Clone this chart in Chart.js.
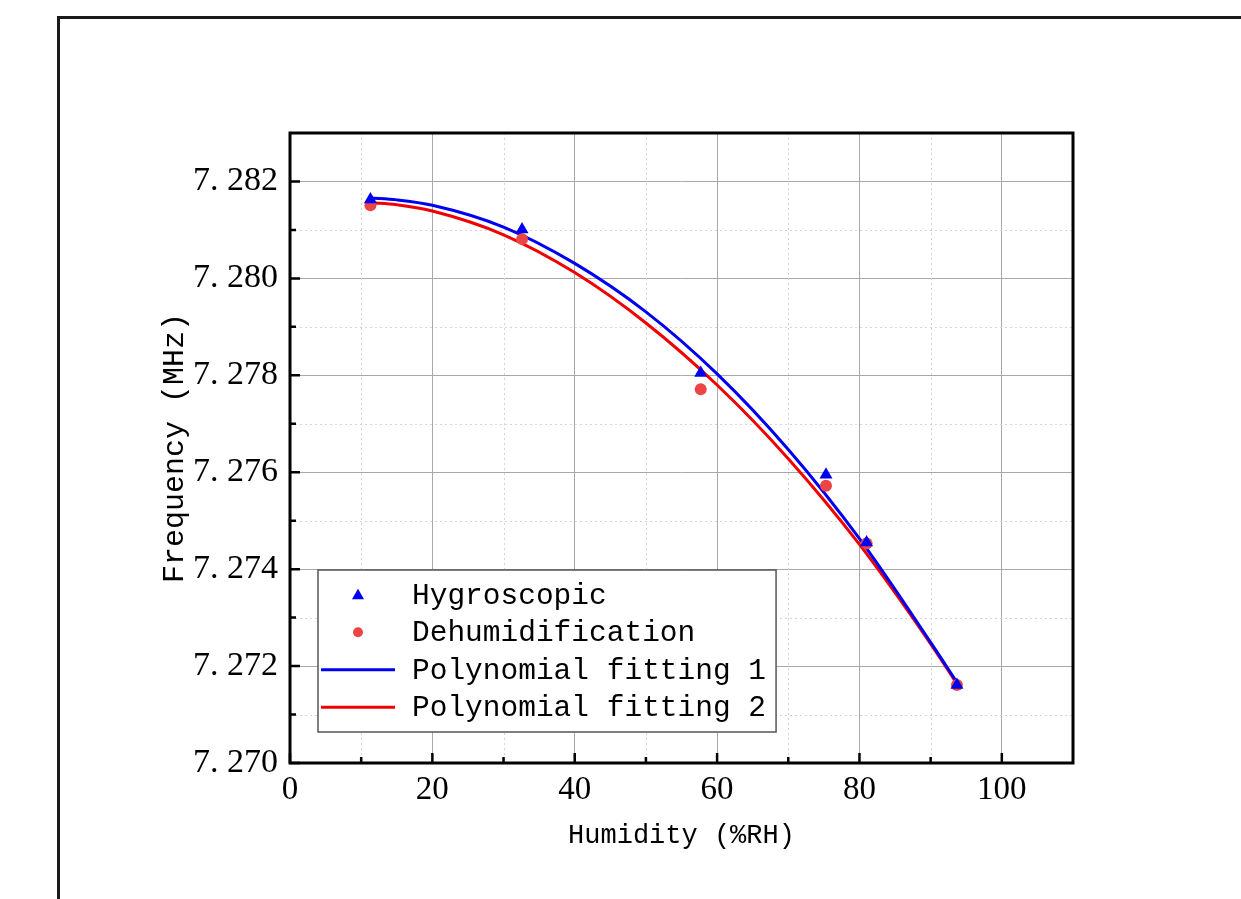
<!DOCTYPE html>
<html>
<head>
<meta charset="utf-8">
<script src="https://cdn.jsdelivr.net/npm/chart.js@4.4.1/dist/chart.umd.min.js"></script>
<style>
  html, body { margin: 0; padding: 0; background: #fff; }
  #wrap { position: relative; width: 1241px; height: 899px; }
</style>
</head>
<body>
<div id="wrap"><canvas id="chart"></canvas></div>
<script>
  // Measured humidity points (%RH) and resonant frequency (MHz).
  const HUMIDITY = [11.3, 32.6, 57.7, 75.3, 81.0, 93.7];
  const HYGROSCOPIC = [7.28163, 7.28101, 7.27805, 7.27595, 7.27455, 7.27161];
  const DEHUMIDIFICATION = [7.28151, 7.28081, 7.27771, 7.27572, 7.27453, 7.27161];

  // Fitted curves.
  const FIT_X = [11.3, 15, 20, 30, 40, 50, 60, 70, 80, 90, 93.5];
  const FIT_1 = [7.28166, 7.28162, 7.28151, 7.28106, 7.28031, 7.27931, 7.27803, 7.27647, 7.27463, 7.27249, 7.27171];
  const FIT_2 = [7.28156, 7.28152, 7.28139, 7.28090, 7.28012, 7.27908, 7.27780, 7.27628, 7.27451, 7.27246, 7.27168];

  // Tick values.
  const X_TICKS = [0, 20, 40, 60, 80, 100];
  const X_MINOR = [10, 30, 50, 70, 90];
  const Y_TICKS = [7.270, 7.272, 7.274, 7.276, 7.278, 7.280, 7.282];
  const Y_MINOR = [7.271, 7.273, 7.275, 7.277, 7.279, 7.281];

  const BLUE = '#0000f0';
  const RED = '#f00000';
  const DOT_RED = '#eb4545';
  const MONO = '"Liberation Mono", "DejaVu Sans Mono", monospace';
  const SERIF = '"Liberation Serif", "DejaVu Serif", serif';

  const pts = (xs, ys) => xs.map((x, i) => ({ x, y: ys[i] }));

  function triangle(ctx, x, y, r) {
    ctx.beginPath();
    ctx.moveTo(x, y - r);
    ctx.lineTo(x + r * 0.866, y + r * 0.5);
    ctx.lineTo(x - r * 0.866, y + r * 0.5);
    ctx.closePath();
    ctx.fill();
  }

  // Minor dotted grid, drawn under the data.
  const minorGrid = {
    id: 'minorGrid',
    beforeDatasetsDraw(chart) {
      const { ctx, chartArea: a, scales } = chart;
      ctx.save();
      ctx.strokeStyle = '#d4d4d4';
      ctx.lineWidth = 1;
      ctx.setLineDash([2, 3]);
      ctx.beginPath();
      X_MINOR.forEach(v => {
        const px = Math.round(scales.x.getPixelForValue(v)) + 0.5;
        ctx.moveTo(px, a.top); ctx.lineTo(px, a.bottom);
      });
      Y_MINOR.forEach(v => {
        const py = Math.round(scales.y.getPixelForValue(v)) + 0.5;
        ctx.moveTo(a.left, py); ctx.lineTo(a.right, py);
      });
      ctx.stroke();
      ctx.restore();
    },
  };

  // Box frame, inward ticks, legend and the outer figure frame.
  const decorations = {
    id: 'decorations',
    afterDatasetsDraw(chart) {
      const { ctx, chartArea: a, scales } = chart;
      ctx.save();
      // inward ticks on left and bottom
      ctx.strokeStyle = '#000';
      ctx.lineWidth = 2.5;
      ctx.beginPath();
      X_TICKS.forEach(v => { const px = scales.x.getPixelForValue(v); ctx.moveTo(px, a.bottom); ctx.lineTo(px, a.bottom - 10); });
      X_MINOR.forEach(v => { const px = scales.x.getPixelForValue(v); ctx.moveTo(px, a.bottom); ctx.lineTo(px, a.bottom - 6); });
      Y_TICKS.forEach(v => { const py = scales.y.getPixelForValue(v); ctx.moveTo(a.left, py); ctx.lineTo(a.left + 10, py); });
      Y_MINOR.forEach(v => { const py = scales.y.getPixelForValue(v); ctx.moveTo(a.left, py); ctx.lineTo(a.left + 6, py); });
      ctx.stroke();
      ctx.lineWidth = 3;
      ctx.strokeRect(a.left, a.top, a.right - a.left, a.bottom - a.top);

      // legend
      const rowH = 37.5;
      ctx.font = '29.5px ' + MONO;
      const items = chart.data.datasets.map(d => d.label);
      const textW = Math.max(...items.map(t => ctx.measureText(t).width));
      const lx = a.left + 28;
      const h = rowH * items.length + 12;
      const ly = a.bottom - 31 - h;
      const w = 94 + textW + 10;
      ctx.fillStyle = '#fff';
      ctx.fillRect(lx, ly, w, h);
      ctx.strokeStyle = '#555';
      ctx.lineWidth = 1.5;
      ctx.strokeRect(lx, ly, w, h);
      ctx.textBaseline = 'middle';
      chart.data.datasets.forEach((d, i) => {
        const cy = ly + 6 + rowH * (i + 0.5);
        const sx = lx + 40;
        if (d.showLine) {
          ctx.strokeStyle = d.borderColor;
          ctx.lineWidth = 3;
          ctx.beginPath();
          ctx.moveTo(lx + 3, cy); ctx.lineTo(lx + 77, cy);
          ctx.stroke();
        } else if (d.pointStyle === 'triangle') {
          ctx.fillStyle = d.backgroundColor;
          triangle(ctx, sx, cy + 1, 7);
        } else {
          ctx.fillStyle = d.backgroundColor;
          ctx.beginPath();
          ctx.arc(sx, cy, 5, 0, Math.PI * 2);
          ctx.fill();
        }
        ctx.fillStyle = '#000';
        ctx.fillText(d.label, lx + 94, cy + 1);
      });
      ctx.restore();
    },
    afterDraw(chart) {
      const { ctx, width, height } = chart;
      ctx.save();
      ctx.strokeStyle = '#1a1a1a';
      ctx.lineWidth = 3;
      ctx.beginPath();
      ctx.moveTo(58.5, height);
      ctx.lineTo(58.5, 17.5);
      ctx.lineTo(width, 17.5);
      ctx.stroke();
      ctx.restore();
    },
  };

  new Chart(document.getElementById('chart'), {
    type: 'scatter',
    data: {
      datasets: [
        {
          label: 'Hygroscopic',
          data: pts(HUMIDITY, HYGROSCOPIC),
          pointStyle: 'triangle',
          pointRadius: 7.5,
          backgroundColor: BLUE,
          borderColor: BLUE,
          borderWidth: 0,
          showLine: false,
          order: 0,
        },
        {
          label: 'Dehumidification',
          data: pts(HUMIDITY, DEHUMIDIFICATION),
          pointStyle: 'circle',
          pointRadius: 6,
          backgroundColor: DOT_RED,
          borderColor: DOT_RED,
          borderWidth: 0,
          showLine: false,
          order: 0,
        },
        {
          label: 'Polynomial fitting 1',
          data: pts(FIT_X, FIT_1),
          showLine: true,
          pointRadius: 0,
          borderColor: BLUE,
          backgroundColor: BLUE,
          borderWidth: 3,
          cubicInterpolationMode: 'monotone',
          order: 1,
        },
        {
          label: 'Polynomial fitting 2',
          data: pts(FIT_X, FIT_2),
          showLine: true,
          pointRadius: 0,
          borderColor: RED,
          backgroundColor: RED,
          borderWidth: 3,
          cubicInterpolationMode: 'monotone',
          order: 1,
        },
      ],
    },
    options: {
      responsive: true,
      maintainAspectRatio: false,
      animation: false,
      layout: { padding: { left: 157, top: 133, right: 168, bottom: 47 } },
      plugins: {
        legend: { display: false },
        tooltip: { enabled: false },
      },
      scales: {
        x: {
          type: 'linear',
          min: 0,
          max: 110,
          afterBuildTicks: s => { s.ticks = X_TICKS.map(v => ({ value: v })); },
          afterFit: s => { s.height = 89; },
          grid: { color: '#a8a8a8', lineWidth: 1, drawTicks: false },
          border: { display: false },
          ticks: {
            color: '#000',
            padding: 8,
            maxRotation: 0,
            font: { family: SERIF, size: 33 },
            callback: v => String(v),
          },
          title: {
            display: true,
            text: 'Humidity (%RH)',
            color: '#000',
            padding: 0,
            font: { family: MONO, size: 27, lineHeight: 1.2 },
          },
        },
        y: {
          type: 'linear',
          min: 7.270,
          max: 7.283,
          afterBuildTicks: s => { s.ticks = Y_TICKS.map(v => ({ value: v })); },
          afterFit: s => { s.width = 133; },
          grid: { color: '#a8a8a8', lineWidth: 1, drawTicks: false },
          border: { display: false },
          ticks: {
            color: '#000',
            padding: 12,
            font: { family: SERIF, size: 34 },
            callback: v => v.toFixed(3).replace('.', '. '),
          },
          title: {
            display: true,
            text: 'Frequency (MHz)',
            color: '#000',
            padding: 0,
            font: { family: MONO, size: 30, lineHeight: 1.2 },
          },
        },
      },
    },
    plugins: [minorGrid, decorations],
  });
</script>
</body>
</html>
